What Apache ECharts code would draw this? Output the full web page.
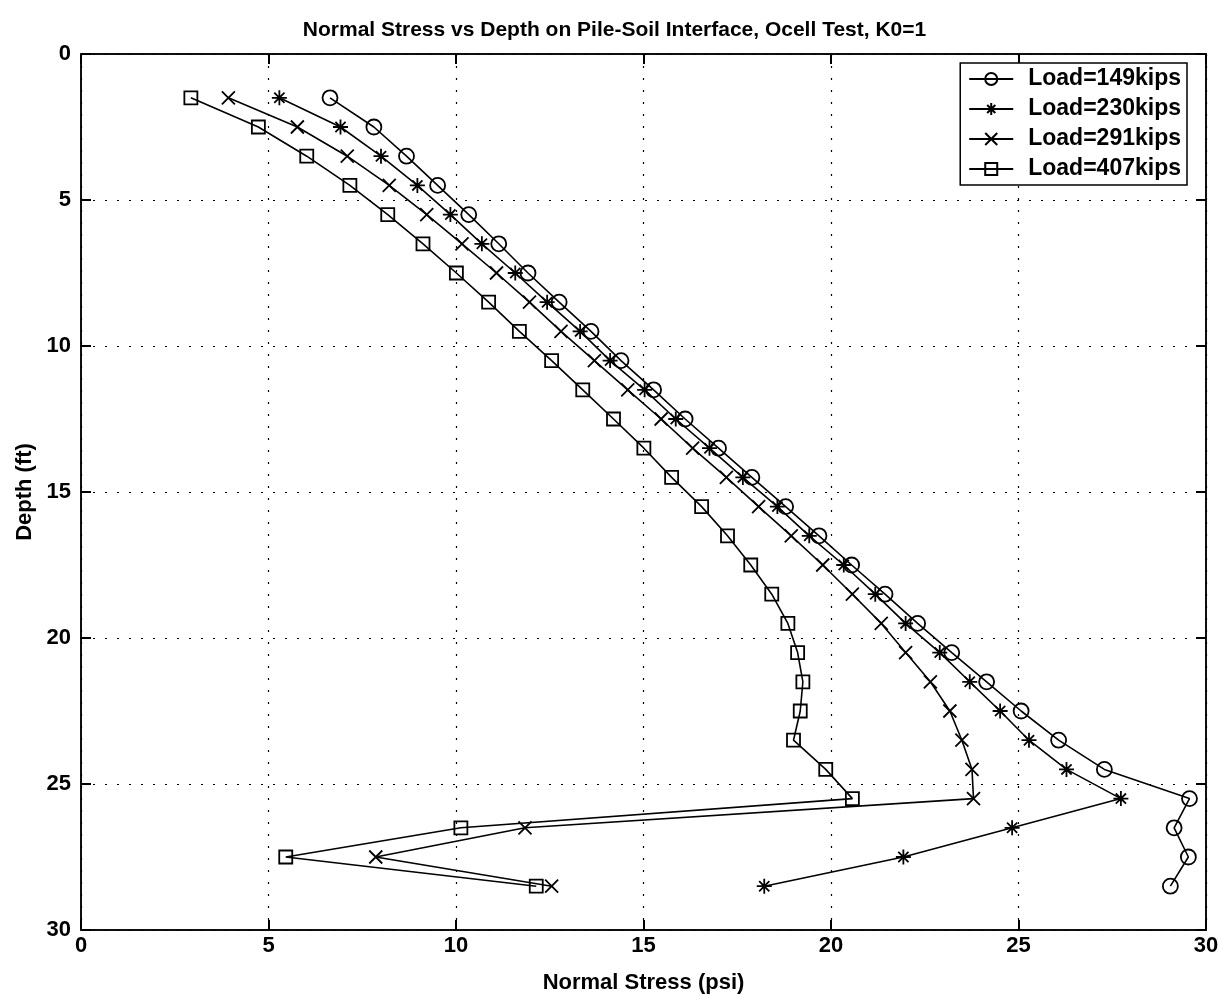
<!DOCTYPE html>
<html>
<head>
<meta charset="utf-8">
<script src="https://cdn.jsdelivr.net/npm/echarts@6/dist/echarts.min.js"></script>
<style>
  html, body { margin: 0; padding: 0; background: #fff; }
  #chart { width: 1229px; height: 1002px; }
</style>
</head>
<body>
<div id="chart"></div>
<script>
// depth of each measuring point (ft)
const depths = [1.5, 2.5, 3.5, 4.5, 5.5, 6.5, 7.5, 8.5, 9.5, 10.5, 11.5, 12.5, 13.5, 14.5,
  15.5, 16.5, 17.5, 18.5, 19.5, 20.5, 21.5, 22.5, 23.5, 24.5, 25.5, 26.5, 27.5, 28.5]

// normal stress (psi) per load step
const load149 = [6.64, 7.81, 8.68, 9.51, 10.34, 11.14, 11.92, 12.75, 13.60, 14.40, 15.27, 16.11, 17.00, 17.89,
  18.79, 19.68, 20.55, 21.44, 22.31, 23.22, 24.15, 25.07, 26.07, 27.29, 29.56, 29.15, 29.53, 29.05]
const load230 = [5.29, 6.92, 8.00, 8.97, 9.85, 10.69, 11.58, 12.43, 13.31, 14.11, 15.03, 15.86, 16.76, 17.65,
  18.57, 19.42, 20.34, 21.18, 21.99, 22.90, 23.70, 24.51, 25.28, 26.28, 27.73, 24.83, 21.93, 18.22]
const load291 = [3.93, 5.77, 7.10, 8.22, 9.22, 10.16, 11.08, 11.96, 12.80, 13.69, 14.58, 15.47, 16.31, 17.21,
  18.07, 18.94, 19.78, 20.57, 21.34, 21.99, 22.65, 23.17, 23.49, 23.76, 23.80, 11.84, 7.86, 12.55]
const load407 = [2.93, 4.73, 6.02, 7.17, 8.18, 9.12, 10.01, 10.87, 11.69, 12.55, 13.38, 14.20, 15.01, 15.75,
  16.55, 17.24, 17.86, 18.42, 18.85, 19.11, 19.25, 19.18, 19.00, 19.86, 20.57, 10.13, 5.46, 12.14]

const seriesNames = ['Load=149kips', 'Load=230kips', 'Load=291kips', 'Load=407kips']
const seriesValues = [load149, load230, load291, load407]

const FONT = '"Liberation Sans", Arial, sans-serif'

// matlab-like markers
const markers = [
  { symbol: 'circle', size: 15 },
  { symbol: 'path://M5,0L5,10M0,5L10,5M1.6,1.6L8.4,8.4M8.4,1.6L1.6,8.4', size: 15 },
  { symbol: 'path://M0,0L10,10M10,0L0,10', size: 13 },
  { symbol: 'rect', size: 13 }
]

const chart = echarts.init(document.getElementById('chart'))

const tickLabel = { fontFamily: FONT, fontWeight: 'bold', fontSize: 22, color: '#000' }
const gridDots = { show: true, lineStyle: { color: '#000', width: 1.2, type: [2, 10] } }
const frameLine = () => ({ show: true, onZero: false, lineStyle: { color: '#000', width: 1.5 } })
const inTick = () => ({ show: true, inside: true, length: 10, lineStyle: { color: '#000', width: 2 } })
const nameStyle = { fontFamily: FONT, fontWeight: 'bold', fontSize: 22, color: '#000' }

const option = {
  backgroundColor: '#fff',
  animation: false,
  title: {
    text: 'Normal Stress vs Depth on Pile-Soil Interface, Ocell Test, K0=1',
    left: 'center',
    top: 15,
    textStyle: { fontFamily: FONT, fontWeight: 'bold', fontSize: 21, color: '#000' }
  },
  legend: {
    orient: 'vertical',
    right: 42,
    top: 63,
    backgroundColor: '#fff',
    borderColor: '#000',
    borderWidth: 1.5,
    borderRadius: 0,
    padding: [3, 6, 3, 8],
    itemGap: 4,
    itemWidth: 44,
    itemHeight: 15,
    textStyle: {
      fontFamily: FONT, fontWeight: 'bold', fontSize: 23, color: '#000',
      lineHeight: 26, padding: [0, 0, 0, 10]
    },
    data: seriesNames
  },
  grid: {
    left: 81, right: 23, top: 54, bottom: 72,
    show: true, borderColor: '#000', borderWidth: 1.5
  },
  xAxis: [{
    type: 'value', min: 0, max: 30, interval: 5,
    name: 'Normal Stress (psi)', nameLocation: 'middle', nameGap: 42,
    nameTextStyle: nameStyle,
    axisLine: frameLine(),
    axisTick: inTick(),
    axisLabel: Object.assign({ margin: 5 }, tickLabel),
    splitLine: gridDots
  }, {
    type: 'value', min: 0, max: 30, interval: 5, position: 'top',
    axisLine: frameLine(),
    axisTick: inTick(),
    axisLabel: { show: false },
    splitLine: { show: false }
  }],
  yAxis: [{
    type: 'value', min: 0, max: 30, interval: 5, inverse: true,
    name: 'Depth (ft)', nameLocation: 'middle', nameGap: 44, nameRotate: 90,
    nameTextStyle: nameStyle,
    axisLine: frameLine(),
    axisTick: inTick(),
    axisLabel: Object.assign({ margin: 10 }, tickLabel),
    splitLine: gridDots
  }, {
    type: 'value', min: 0, max: 30, interval: 5, inverse: true, position: 'right',
    axisLine: frameLine(),
    axisTick: inTick(),
    axisLabel: { show: false },
    splitLine: { show: false }
  }],
  series: seriesNames.map((name, k) => ({
    name: name,
    type: 'line',
    xAxisIndex: 0,
    yAxisIndex: 0,
    data: seriesValues[k].map((v, i) => [v, depths[i]]),
    symbol: markers[k].symbol,
    symbolSize: markers[k].size,
    showAllSymbol: true,
    lineStyle: { color: '#000', width: 1.6 },
    itemStyle: { color: 'rgba(0,0,0,0)', borderColor: '#000', borderWidth: 1.8 },
    emphasis: { disabled: true }
  }))
}

chart.setOption(option)
</script>
</body>
</html>
